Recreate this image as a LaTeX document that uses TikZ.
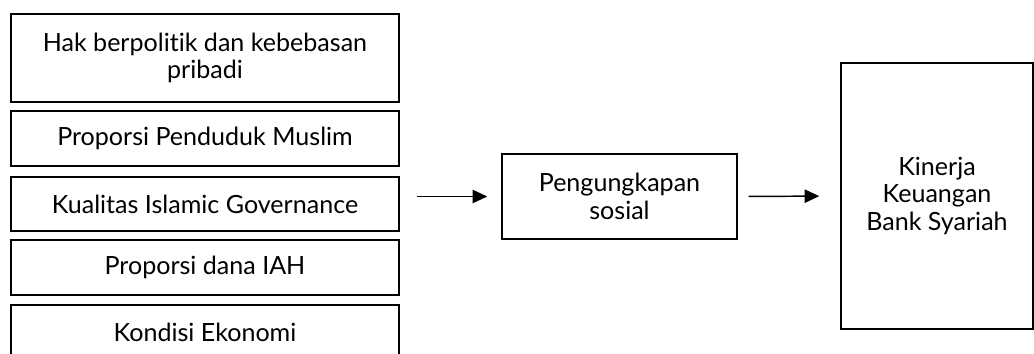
\documentclass[tikz,border=0pt]{standalone}
\usepackage{fontspec}
\setmainfont{Lato}[Ligatures=NoCommon]
\usepackage{tikz}
\usetikzlibrary{arrows.meta,positioning}

\begin{document}
\begin{tikzpicture}[
x=0.75pt,y=-0.75pt,
font=\fontsize{18.8}{20.5}\selectfont,
faktor/.style={draw,line width=1.1pt,inner sep=0pt,minimum width=388*0.75pt,minimum height=55*0.75pt,align=center},
link/.style={-{Triangle[length=11pt,width=10pt]},line width=1.1pt,shorten >=14*0.75pt,shorten <=17*0.75pt}]
    % frame of the page
    \useasboundingbox (0,0) rectangle (1034,353);

    % left column
    \node[faktor,minimum height=88*0.75pt] (hak) at (205,58) {Hak berpolitik dan kebebasan\\pribadi};
    \node[faktor] (muslim) at (205,138.5) {Proporsi Penduduk Muslim};
    \node[faktor,minimum height=54*0.75pt] (gov) at (205,204) {Kualitas Islamic Governance};
    \node[faktor] (iah) at (205,267.5) {Proporsi dana IAH};
    \node[faktor] (ekonomi) at (205,332.5) {Kondisi Ekonomi};

    % middle and right
    \node[faktor,minimum width=235*0.75pt,minimum height=85*0.75pt] (sosial) at (619.5,196.5) {Pengungkapan\\sosial};
    \node[faktor,minimum width=192*0.75pt,minimum height=266*0.75pt] (kinerja) at (937,196) {Kinerja\\Keuangan\\Bank Syariah};

    \draw[link] (gov.east |- sosial.west) -- (sosial.west);
    \draw[link,shorten <=11*0.75pt,shorten >=21*0.75pt] (sosial.east) -- (kinerja.west);

\end{tikzpicture}
\end{document}
